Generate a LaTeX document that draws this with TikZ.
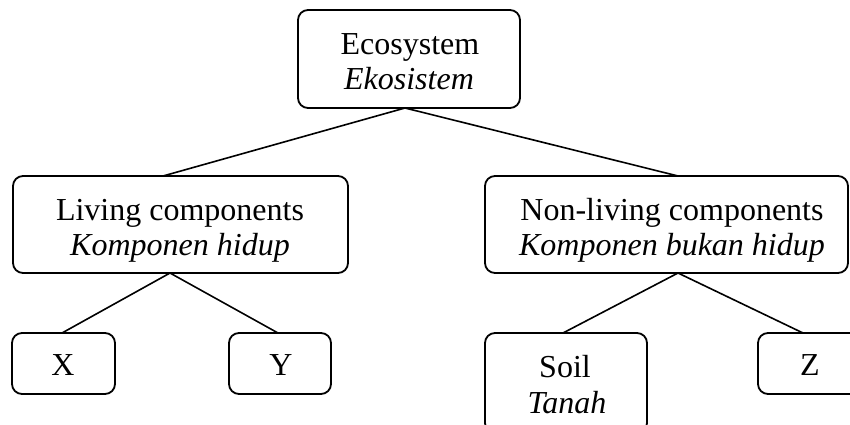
\documentclass[tikz,border=0pt]{standalone}
\usepackage{fontspec}
\setmainfont{Liberation Serif}
\begin{document}
\begin{tikzpicture}[x=1pt,y=-1pt,
  box/.style={draw=black, line width=1.8pt, rounded corners=10pt, inner sep=0pt, outer sep=0pt},
  lbl/.style={inner sep=0pt, anchor=base, font=\fontsize{32}{35}\selectfont},
  ilbl/.style={lbl, font=\fontsize{32}{35}\selectfont\itshape},
  conn/.style={line width=1.6pt}]
\clip (0,0) rectangle (850,425);
\useasboundingbox (0,0) rectangle (850,425);
% boxes
\node[box, minimum width=222pt, minimum height=98pt] (eco) at (409,59) {};
\node[box, minimum width=335pt, minimum height=97pt] (living) at (180.5,224.5) {};
\node[box, minimum width=363pt, minimum height=97pt] (nonliving) at (666.5,224.5) {};
\node[box, minimum width=103pt, minimum height=61pt] (x) at (63.5,363.5) {};
\node[box, minimum width=102pt, minimum height=61pt] (y) at (280,363.5) {};
\node[box, minimum width=162pt, minimum height=100pt] (soil) at (566,383) {};
\node[box, minimum width=104pt, minimum height=61pt] (z) at (810,363.5) {};
% texts
\node[lbl] (ecot1) at (410,55) {Ecosystem};
\node[ilbl] (ecot2) at (409,90) {Ekosistem};
\node[lbl] (livt1) at (180,220) {Living components};
\node[ilbl] (livt2) at (180,255) {Komponen hidup};
\node[lbl] (nlt1) at (672,220) {Non-living components};
\node[ilbl] (nlt2) at (672,255) {Komponen bukan hidup};
\node[lbl] (xt) at (63,375) {X};
\node[lbl] (yt) at (281,375) {Y};
\node[lbl] (soilt1) at (565,377) {Soil};
\node[ilbl] (soilt2) at (567,413) {Tanah};
\node[lbl] (zt) at (810,375) {Z};
% connectors
\draw[conn] ([xshift=-4pt]eco.south) -- ([xshift=-17.5pt]living.north);
\draw[conn] ([xshift=-4pt]eco.south) -- ([xshift=11.5pt]nonliving.north);
\draw[conn] ([xshift=-10.5pt]living.south) -- ([xshift=-1.5pt]x.north);
\draw[conn] ([xshift=-10.5pt]living.south) -- ([xshift=-2pt]y.north);
\draw[conn] ([xshift=11.5pt]nonliving.south) -- ([xshift=-3pt]soil.north);
\draw[conn] ([xshift=11.5pt]nonliving.south) -- ([xshift=-7pt]z.north);
\end{tikzpicture}
\end{document}
